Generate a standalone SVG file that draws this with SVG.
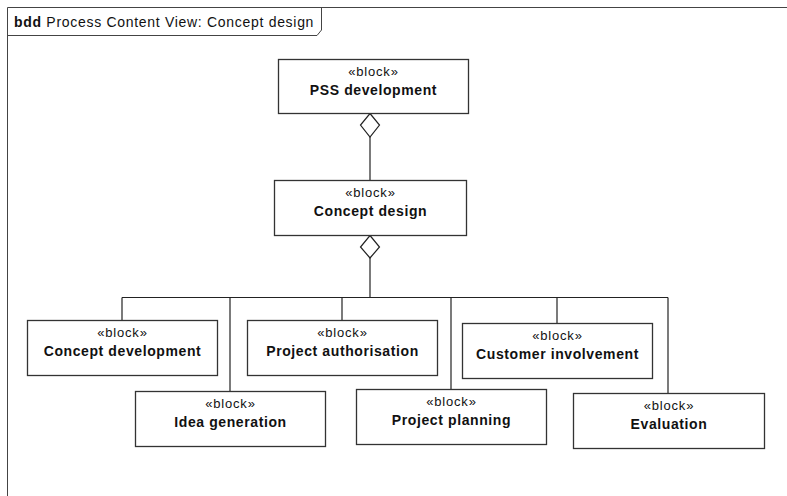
<svg xmlns="http://www.w3.org/2000/svg" width="787" height="496" viewBox="0 0 787 496">
  <style>
    .frame { fill: none; stroke: #444; stroke-width: 1; }
    .block { fill: #fff; stroke: #333; stroke-width: 1.3; }
    .stereo { font-family: "Liberation Sans", Arial, sans-serif; font-size: 13px; letter-spacing: 0.8px; fill: #111; text-anchor: middle; }
    .name { font-family: "Liberation Sans", Arial, sans-serif; font-size: 14px; font-weight: bold; letter-spacing: 0.6px; fill: #111; text-anchor: middle; }
    .title { font-family: "Liberation Sans", Arial, sans-serif; font-size: 14px; letter-spacing: 0.7px; fill: #111; }
    .conn { fill: none; stroke: #222; stroke-width: 1.2; }
    .agg { fill: #fff; stroke: #222; stroke-width: 1.2; }
  </style>

  <rect width="787" height="496" fill="#fff"/>

  <!-- diagram frame with name tab -->
  <g id="frame">
    <path class="frame" d="M7.5,496 V7.5 H787"/>
    <path class="frame" d="M7.5,35.5 H317 L321.5,30 V7.5"/>
    <text class="title" x="14" y="27"><tspan font-weight="bold">bdd</tspan> Process Content View: Concept design</text>
  </g>

  <!-- composition connectors -->
  <g id="connectors">
    <line class="conn" x1="370" y1="137" x2="370" y2="180"/>
    <polygon class="agg" points="370,113.5 379.5,125 370,137 360.5,125"/>
    <line class="conn" x1="370" y1="258" x2="370" y2="297.5"/>
    <polygon class="agg" points="370,235.5 379.5,247 370,258 360.5,247"/>
    <line class="conn" x1="122" y1="297.5" x2="668" y2="297.5"/>
    <line class="conn" x1="122" y1="297.5" x2="122" y2="320"/>
    <line class="conn" x1="230" y1="297.5" x2="230" y2="391"/>
    <line class="conn" x1="342" y1="297.5" x2="342" y2="320"/>
    <line class="conn" x1="451" y1="297.5" x2="451" y2="389"/>
    <line class="conn" x1="557" y1="297.5" x2="557" y2="323"/>
    <line class="conn" x1="668" y1="297.5" x2="668" y2="393"/>
  </g>

  <g id="pss-development">
    <rect class="block" x="278.5" y="59.5" width="190" height="54"/>
    <text class="stereo" x="373.5" y="76">«block»</text>
    <text class="name" x="373.5" y="95">PSS development</text>
  </g>

  <g id="concept-design">
    <rect class="block" x="274.5" y="180.5" width="192" height="55"/>
    <text class="stereo" x="370.5" y="197">«block»</text>
    <text class="name" x="370.5" y="216">Concept design</text>
  </g>

  <g id="concept-development">
    <rect class="block" x="27.5" y="320.5" width="190" height="55"/>
    <text class="stereo" x="122.5" y="337">«block»</text>
    <text class="name" x="122.5" y="356">Concept development</text>
  </g>

  <g id="idea-generation">
    <rect class="block" x="135.5" y="391.5" width="190" height="55"/>
    <text class="stereo" x="230.5" y="408">«block»</text>
    <text class="name" x="230.5" y="427">Idea generation</text>
  </g>

  <g id="project-authorisation">
    <rect class="block" x="247.5" y="320.5" width="190" height="55"/>
    <text class="stereo" x="342.5" y="337">«block»</text>
    <text class="name" x="342.5" y="356">Project authorisation</text>
  </g>

  <g id="project-planning">
    <rect class="block" x="356.5" y="389.5" width="190" height="55"/>
    <text class="stereo" x="451.5" y="406">«block»</text>
    <text class="name" x="451.5" y="425">Project planning</text>
  </g>

  <g id="customer-involvement">
    <rect class="block" x="462.5" y="323.5" width="190" height="55"/>
    <text class="stereo" x="557.5" y="340">«block»</text>
    <text class="name" x="557.5" y="359">Customer involvement</text>
  </g>

  <g id="evaluation">
    <rect class="block" x="573.5" y="393.5" width="191" height="55"/>
    <text class="stereo" x="669" y="410">«block»</text>
    <text class="name" x="669" y="429">Evaluation</text>
  </g>
</svg>
